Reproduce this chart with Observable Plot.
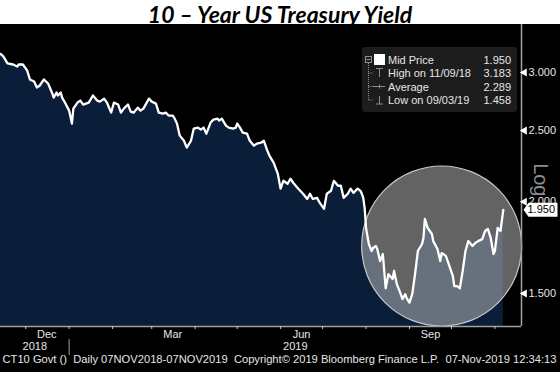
<!DOCTYPE html>
<html><head><meta charset="utf-8">
<script src="https://cdn.jsdelivr.net/npm/d3@7"></script>
<script src="https://cdn.jsdelivr.net/npm/@observablehq/plot@0.6"></script>
<style>
html,body{margin:0;padding:0;background:#fff;width:560px;height:372px;overflow:hidden}
#title{height:24px;line-height:24px;text-align:center;font:italic bold 23px Lato, sans-serif;color:#000;white-space:nowrap}
#chart svg{display:block}
</style></head><body>
<div id="title">10 – Year US Treasury Yield</div>
<div id="chart"></div>
<script>
const dates = ["2018-11-13","2018-11-15","2018-11-18","2018-11-22","2018-11-25","2018-11-26","2018-11-29","2018-12-02","2018-12-04","2018-12-07",
"2018-12-09","2018-12-11","2018-12-14","2018-12-17","2018-12-20","2018-12-21","2018-12-23","2018-12-24","2018-12-26","2018-12-27",
"2018-12-29","2019-01-01","2019-01-03","2019-01-04","2019-01-07","2019-01-09","2019-01-11","2019-01-15","2019-01-18","2019-01-21",
"2019-01-23","2019-01-26","2019-01-28","2019-01-31","2019-02-02","2019-02-05","2019-02-07","2019-02-09","2019-02-12","2019-02-14",
"2019-02-16","2019-02-19","2019-02-21","2019-02-23","2019-02-27","2019-03-01","2019-03-04","2019-03-06","2019-03-09","2019-03-11",
"2019-03-13","2019-03-16","2019-03-17","2019-03-19","2019-03-21","2019-03-24","2019-03-26","2019-03-29","2019-03-31","2019-04-03",
"2019-04-05","2019-04-07","2019-04-09","2019-04-12","2019-04-14","2019-04-17","2019-04-18","2019-04-20","2019-04-23","2019-04-25",
"2019-04-28","2019-04-30","2019-05-01","2019-05-03","2019-05-05","2019-05-08","2019-05-10","2019-05-13","2019-05-15","2019-05-18",
"2019-05-20","2019-05-22","2019-05-24","2019-05-27","2019-05-30","2019-06-01","2019-06-03","2019-06-06","2019-06-08","2019-06-10",
"2019-06-13","2019-06-15","2019-06-17","2019-06-20","2019-06-22","2019-06-24","2019-06-27","2019-06-29","2019-07-02","2019-07-04",
"2019-07-07","2019-07-09","2019-07-12","2019-07-14","2019-07-16","2019-07-19","2019-07-21","2019-07-23","2019-07-26","2019-07-28",
"2019-07-29","2019-07-30","2019-07-31","2019-08-01","2019-08-03","2019-08-05","2019-08-06","2019-08-08","2019-08-09","2019-08-11",
"2019-08-13","2019-08-15","2019-08-17","2019-08-20","2019-08-21","2019-08-23","2019-08-25","2019-08-27","2019-08-29","2019-08-30",
"2019-09-01","2019-09-03","2019-09-05","2019-09-07","2019-09-10","2019-09-11","2019-09-12","2019-09-14","2019-09-17","2019-09-18",
"2019-09-21","2019-09-23","2019-09-24","2019-09-27","2019-09-29","2019-10-02","2019-10-03","2019-10-05","2019-10-07","2019-10-09",
"2019-10-11","2019-10-13","2019-10-16","2019-10-18","2019-10-20","2019-10-23","2019-10-25","2019-10-27","2019-10-29","2019-10-31",
"2019-11-01","2019-11-03","2019-11-05","2019-11-07"];
const yields = [3.180,3.155,3.086,3.076,3.057,3.076,3.076,3.019,2.935,2.916,
2.862,2.880,2.935,2.898,2.808,2.773,2.817,2.791,2.817,2.773,
2.730,2.662,2.556,2.679,2.730,2.747,2.713,2.730,2.791,2.747,
2.738,2.764,2.730,2.645,2.730,2.713,2.645,2.679,2.713,2.654,
2.645,2.687,2.662,2.679,2.764,2.738,2.721,2.645,2.637,2.645,
2.621,2.621,2.604,2.556,2.461,2.422,2.370,2.422,2.516,2.524,
2.508,2.524,2.476,2.564,2.588,2.596,2.580,2.596,2.540,2.524,
2.516,2.524,2.556,2.524,2.484,2.476,2.422,2.385,2.400,2.407,
2.422,2.362,2.311,2.261,2.184,2.084,2.136,2.116,2.150,2.123,
2.090,2.070,2.051,2.018,2.051,2.018,2.025,1.993,1.956,2.051,
2.070,2.136,2.103,2.103,2.025,2.051,2.084,2.057,2.084,2.070,
2.051,2.025,1.962,1.843,1.752,1.714,1.730,1.741,1.725,1.661,
1.698,1.525,1.594,1.570,1.610,1.545,1.511,1.474,1.497,1.478,
1.458,1.497,1.594,1.714,1.752,1.786,1.896,1.843,1.808,1.768,
1.725,1.661,1.703,1.688,1.646,1.584,1.535,1.535,1.525,1.610,
1.714,1.768,1.741,1.758,1.768,1.779,1.825,1.837,1.786,1.698,
1.714,1.843,1.825,1.950];
const yTicks = [1.5, 2.0, 2.5, 3.0];
const monthTicks = ["2018-12-01","2019-01-01","2019-02-01","2019-03-01","2019-04-01","2019-05-01","2019-06-01","2019-07-01","2019-08-01","2019-09-01","2019-10-01","2019-11-01"];
const monthLabelDates = ["2018-12-16","2019-03-16","2019-06-16","2019-09-16"];
const yearLabels = ["2018","2019"];
const yearBoundary = "2019-01-01";
const xDomain = ["2018-11-13","2019-11-20"];
const yDomain = [1.3527, 3.422];
const highlightDates = ["2019-09-24"];
const highlightValues = [1.741];
const legendLabels = ["Mid Price","High on 11/09/18","Average","Low on 09/03/19"];
const legendValues = [1.950, 3.183, 2.289, 1.458];
const caption = "CT10 Govt ()  Daily 07NOV2018-07NOV2019  Copyright\u00a9 2019 Bloomberg Finance L.P.  07-Nov-2019 12:34:13";

const parse = d3.utcParse("%Y-%m-%d");
const data = dates.map((d, i) => ({date: parse(d), value: yields[i]}));
const last = data[data.length - 1];
const highlight = highlightDates.map((d, i) => ({date: parse(d), value: highlightValues[i]}));
const fmt = d3.format(".3f");
const font = "'Liberation Sans', Arial, sans-serif";
const x0 = parse(xDomain[0]), x1 = parse(xDomain[1]), yb = parse(yearBoundary);
const yearMids = [
  {date: new Date((+x0 + +yb) / 2), label: yearLabels[0]},
  {date: new Date((+yb + +x1) / 2), label: yearLabels[1]}
];
const flag = {draw(ctx) {
  ctx.moveTo(-18, 0); ctx.lineTo(-13, -7); ctx.lineTo(16, -7);
  ctx.lineTo(16, 7); ctx.lineTo(-13, 7); ctx.closePath();
}};

const plot = Plot.plot({
  width: 560, height: 348,
  marginLeft: 0, marginRight: 39, marginTop: 6, marginBottom: 46,
  style: {background: "#000", fontFamily: font, fontSize: "11px", overflow: "visible", color: "#e6e6e6"},
  x: {type: "utc", domain: [x0, x1], label: null},
  y: {type: "log", domain: yDomain, axis: null},
  marks: [
    Plot.areaY(data, {x: "date", y1: yDomain[0], y2: "value", fill: "#0a1e3a"}),
    Plot.dot(highlight, {x: "date", y: "value", r: 80, fill: "#b4b4b4", fillOpacity: 0.55, stroke: "#c8c8c8", strokeWidth: 1.2}),
    Plot.lineY(data, {x: "date", y: "value", stroke: "#ffffff", strokeWidth: 2.3}),
    Plot.ruleY([yDomain[0]], {stroke: "#a0a0a0", strokeWidth: 1.5}),
    Plot.ruleX([x1], {stroke: "#a0a0a0", strokeWidth: 1.5, insetTop: -6}),
    Plot.axisX({ticks: monthTicks.map(parse), tickSize: 3, tickFormat: () => "", stroke: "#c8c8c8", label: null}),
    Plot.axisX({ticks: monthLabelDates.map(parse), tickSize: 0, tickPadding: 4, tickFormat: d3.utcFormat("%b"), fill: "#e6e6e6", fontSize: 11, label: null}),
    Plot.axisX({ticks: [yb], tickSize: 16, dy: 13, tickFormat: () => "", stroke: "#a0a0a0", label: null}),
    Plot.text(yearMids, {x: "date", text: "label", frameAnchor: "bottom", dy: 23, fill: "#e6e6e6", fontSize: 11}),
    Plot.text([caption], {frameAnchor: "bottom-left", dx: 2, dy: 36, textAnchor: "start", fill: "#e6e6e6", fontSize: 11}),
    Plot.dot(yTicks, {y: d => d, frameAnchor: "right", dx: 3, symbol: "triangle", r: 3, rotate: -90, fill: "#ffffff", stroke: null}),
    Plot.text(yTicks, {y: d => d, text: d => fmt(d), frameAnchor: "right", dx: 7, textAnchor: "start", fill: "#e6e6e6", fontSize: 11}),
    Plot.text(["Log"], {frameAnchor: "right", dx: 19, dy: 18, rotate: 90, fill: "#8c8c8c", fontSize: 20}),
    Plot.dot([last], {y: "value", frameAnchor: "right", dx: 20, symbol: flag, fill: "#ffffff", stroke: null}),
    Plot.text([last], {y: "value", text: d => fmt(d.value), frameAnchor: "right", dx: 6, textAnchor: "start", fill: "#000000", fontSize: 11})
  ]
});

// fit caption width
d3.select(plot).selectAll("text").filter(function() { return this.textContent === caption; })
  .attr("textLength", 554).attr("lengthAdjust", "spacingAndGlyphs").style("white-space", "pre");

// legend box (static annotation)
const svg = d3.select(plot);
const g = svg.append("g").attr("font-family", font).attr("font-size", 11).attr("text-anchor", "start");
const lx = 362, ly = 23, grey = "#8c8c8c";
g.append("rect").attr("x", lx).attr("y", ly).attr("width", 155).attr("height", 65).attr("rx", 3).attr("fill", "#1c1c1c");
const rowY = [35.5, 49, 62.5, 76];
g.append("rect").attr("x", 365.5).attr("y", 32.5).attr("width", 6).attr("height", 6).attr("fill", "none").attr("stroke", grey);
g.append("line").attr("x1", 366.5).attr("x2", 370.5).attr("y1", 35.5).attr("y2", 35.5).attr("stroke", grey);
g.append("line").attr("x1", 368.5).attr("x2", 368.5).attr("y1", 39).attr("y2", 76).attr("stroke", grey).attr("stroke-dasharray", "1,1");
rowY.slice(1).forEach(y => g.append("line").attr("x1", 368.5).attr("x2", 373).attr("y1", y).attr("y2", y).attr("stroke", grey).attr("stroke-dasharray", "1,1"));
g.append("rect").attr("x", 374).attr("y", 30).attr("width", 11).attr("height", 11).attr("fill", "#fff");
g.append("path").attr("d", "M376,44.5H383M379.5,44.5V53").attr("stroke", grey).attr("fill", "none");
g.append("path").attr("d", "M373,62.5H385M379.5,60.5V64.5").attr("stroke", grey).attr("fill", "none");
g.append("path").attr("d", "M379.5,72V80M376,80H383").attr("stroke", grey).attr("fill", "none");
legendLabels.forEach((t, i) => {
  g.append("text").attr("x", 388).attr("y", rowY[i] + 4).attr("text-anchor", "start").attr("fill", "#e6e6e6").text(t);
  g.append("text").attr("x", 511).attr("y", rowY[i] + 4).attr("text-anchor", "end").attr("fill", "#e6e6e6").text(fmt(legendValues[i]));
});

document.getElementById("chart").append(plot);
</script>
</body></html>
